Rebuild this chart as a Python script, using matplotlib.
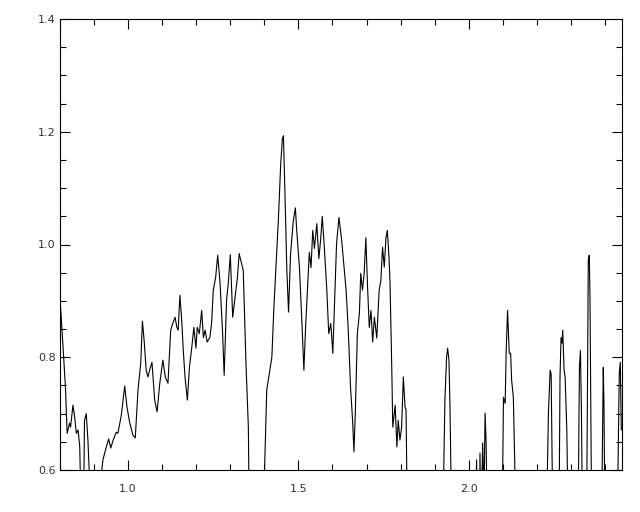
import matplotlib
matplotlib.use("Agg")
import matplotlib.pyplot as plt
from matplotlib.ticker import MultipleLocator

# wavelength (x) and flux (y); values below 0.6 are clipped by the axis
wave = [0.802, 0.809, 0.816, 0.821, 0.828, 0.831, 0.838, 0.843, 0.848, 0.853,
        0.858, 0.861, 0.865, 0.870, 0.872, 0.877, 0.882, 0.887, 0.894, 0.915,
        0.921, 0.926, 0.936, 0.943, 0.949, 0.956, 0.965, 0.970, 0.980, 0.990,
        0.997, 1.005, 1.014, 1.021, 1.029, 1.037, 1.042, 1.047, 1.053, 1.058,
        1.063, 1.070, 1.078, 1.085, 1.093, 1.102, 1.109, 1.117, 1.125, 1.131,
        1.138, 1.143, 1.147, 1.152, 1.157, 1.162, 1.167, 1.174, 1.180, 1.187,
        1.193, 1.199, 1.203, 1.209, 1.216, 1.221, 1.226, 1.232, 1.240, 1.245,
        1.250, 1.257, 1.263, 1.270, 1.277, 1.282, 1.289, 1.294, 1.300, 1.307,
        1.314, 1.321, 1.326, 1.333, 1.338, 1.346, 1.353, 1.356, 1.396, 1.400,
        1.407, 1.415, 1.422, 1.428, 1.441, 1.448, 1.453, 1.456, 1.460, 1.466,
        1.471, 1.477, 1.485, 1.491, 1.495, 1.503, 1.510, 1.516, 1.521, 1.529,
        1.532, 1.537, 1.542, 1.547, 1.554, 1.560, 1.565, 1.570, 1.576, 1.583,
        1.589, 1.595, 1.601, 1.607, 1.612, 1.619, 1.627, 1.634, 1.640, 1.646,
        1.653, 1.659, 1.663, 1.667, 1.673, 1.679, 1.683, 1.688, 1.693, 1.698,
        1.703, 1.708, 1.713, 1.718, 1.723, 1.730, 1.737, 1.742, 1.747, 1.752,
        1.757, 1.761, 1.766, 1.769, 1.774, 1.777, 1.784, 1.789, 1.793, 1.798,
        1.803, 1.808, 1.813, 1.816, 1.820, 1.924, 1.930, 1.935, 1.938, 1.942,
        1.945, 1.950, 2.020, 2.023, 2.026, 2.032, 2.033, 2.036, 2.041, 2.045,
        2.048, 2.051, 2.055, 2.098, 2.102, 2.107, 2.110, 2.114, 2.119, 2.123,
        2.126, 2.131, 2.139, 2.228, 2.234, 2.239, 2.242, 2.247, 2.265, 2.268,
        2.271, 2.274, 2.276, 2.280, 2.283, 2.288, 2.292, 2.321, 2.325, 2.328,
        2.331, 2.334, 2.346, 2.351, 2.354, 2.356, 2.361, 2.390, 2.395, 2.397,
        2.400, 2.436, 2.442, 2.445, 2.448]
flux = [0.887, 0.818, 0.747, 0.665, 0.683, 0.676, 0.715, 0.694, 0.665, 0.671,
        0.641, 0.550, 0.500, 0.580, 0.688, 0.700, 0.653, 0.580, 0.500, 0.500,
        0.590, 0.618, 0.641, 0.655, 0.639, 0.653, 0.667, 0.665, 0.697, 0.749,
        0.710, 0.683, 0.662, 0.657, 0.742, 0.789, 0.864, 0.830, 0.777, 0.765,
        0.777, 0.791, 0.724, 0.703, 0.754, 0.795, 0.765, 0.754, 0.848, 0.860,
        0.871, 0.853, 0.848, 0.910, 0.869, 0.812, 0.765, 0.724, 0.782, 0.818,
        0.853, 0.816, 0.853, 0.842, 0.883, 0.835, 0.848, 0.827, 0.835, 0.860,
        0.919, 0.942, 0.981, 0.931, 0.848, 0.768, 0.901, 0.931, 0.982, 0.871,
        0.906, 0.942, 0.984, 0.966, 0.954, 0.789, 0.676, 0.500, 0.500, 0.590,
        0.742, 0.773, 0.800, 0.889, 1.042, 1.143, 1.188, 1.193, 1.101, 0.954,
        0.880, 0.984, 1.042, 1.065, 1.025, 0.959, 0.865, 0.777, 0.853, 0.949,
        0.986, 0.959, 1.025, 0.993, 1.037, 0.975, 1.007, 1.050, 0.995, 0.924,
        0.842, 0.860, 0.807, 0.913, 1.002, 1.048, 1.007, 0.959, 0.919, 0.853,
        0.747, 0.688, 0.632, 0.701, 0.842, 0.878, 0.949, 0.919, 0.949, 1.012,
        0.924, 0.853, 0.883, 0.827, 0.871, 0.834, 0.919, 0.936, 0.995, 0.960,
        1.012, 1.025, 0.977, 0.931, 0.782, 0.676, 0.715, 0.641, 0.688, 0.653,
        0.676, 0.765, 0.712, 0.706, 0.500, 0.500, 0.724, 0.800, 0.816, 0.795,
        0.712, 0.500, 0.500, 0.618, 0.500, 0.500, 0.630, 0.500, 0.648, 0.550,
        0.701, 0.650, 0.500, 0.500, 0.729, 0.718, 0.812, 0.883, 0.807, 0.807,
        0.759, 0.729, 0.500, 0.500, 0.701, 0.777, 0.770, 0.500, 0.500, 0.765,
        0.835, 0.825, 0.848, 0.777, 0.765, 0.671, 0.500, 0.500, 0.782, 0.812,
        0.700, 0.500, 0.500, 0.972, 0.981, 0.906, 0.500, 0.500, 0.782, 0.720,
        0.500, 0.500, 0.772, 0.791, 0.671]

x_ticks = [1.0, 1.5, 2.0]
y_ticks = [0.6, 0.8, 1.0, 1.2, 1.4]

fig = plt.figure(figsize=(6.4, 5.12), dpi=100)
ax = fig.add_axes([60 / 640, 1 - 470 / 512, 562 / 640, 451 / 512])

ax.plot(wave, flux, color="black", linewidth=0.8)

ax.set_xlim(0.8, 2.45)
ax.set_ylim(0.6, 1.4)
ax.set_xticks(x_ticks)
ax.set_yticks(y_ticks)
ax.set_xticklabels([f"{t:.1f}" for t in x_ticks])
ax.set_yticklabels([f"{t:.1f}" for t in y_ticks])
ax.xaxis.set_minor_locator(MultipleLocator(0.1))
ax.yaxis.set_minor_locator(MultipleLocator(0.05))

ax.tick_params(which="both", direction="in", top=True, right=True,
               width=0.8, colors="black", labelsize=8, labelcolor="#333333")
ax.tick_params(which="major", length=7.5, pad=10)
ax.tick_params(axis="y", which="major", pad=3)
ax.tick_params(which="minor", length=4)
for s in ax.spines.values():
    s.set_linewidth(0.8)

fig.savefig("out.png", dpi=100)
